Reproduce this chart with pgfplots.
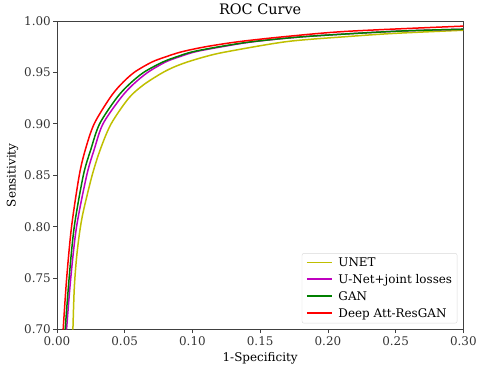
\documentclass[border=0pt]{standalone}
\usepackage{fontspec}
\setmainfont{DejaVu Serif}
\usepackage{pgfplots}
\pgfplotsset{compat=1.18}
\definecolor{mplyellow}{rgb}{0.75,0.75,0}
\definecolor{mplmagenta}{rgb}{0.75,0,0.75}
\definecolor{mplgreen}{rgb}{0,0.5,0}
\definecolor{mplred}{rgb}{1,0,0}

\begin{document}
\begin{tikzpicture}
% canvas of the reference (480x370 px, axis box at 57..464 x 21..330)
\path (-57bp,-40bp) rectangle (423bp,330bp);
\begin{axis}[
    scale only axis,
    width=407bp, height=309bp,
    at={(0,0)}, anchor=south west,
    xmin=0, xmax=0.30,
    ymin=0.70, ymax=1.00,
    xtick={0,0.05,...,0.301},
    ytick={0.70,0.75,...,1.001},
    /pgf/number format/.cd, fixed, fixed zerofill, precision=2, assume math mode=true,
    /pgfplots/.cd,
    tick align=outside,
    tick pos=left,
    major tick length=3.6bp,
    axis line style={black!75, line width=0.8bp},
    every tick/.style={black!75, line width=0.8bp},
    tick label style={font=\fontsize{12}{14}\selectfont, black!80},
    yticklabel style={xshift=1bp},
    title={ROC Curve},
    title style={font=\fontsize{14.5}{16}\selectfont, yshift=-3bp},
    xlabel={1-Specificity},
    ylabel={Sensitivity},
    label style={font=\fontsize{12}{14}\selectfont},
    xlabel style={yshift=0bp},
    ylabel style={yshift=-1bp},
    legend style={
        at={(0.985,0.02)}, anchor=south east,
        draw=black!15, rounded corners=2pt,
        fill=white,
        font=\fontsize{12}{14}\selectfont,
        row sep=2.5bp, inner xsep=3bp, inner ysep=2.5bp,
    },
    legend cell align=left,
    legend image code/.code={%
        \draw[#1, line width=1.6bp] (0bp,0.5bp) -- (25bp,0.5bp);
        \path (-1bp,0bp) (29bp,0bp);},
]

\addplot[color=mplyellow, line width=1.5bp, smooth, tension=0.5] coordinates {
    (0.0118,0.70) (0.0128,0.74) (0.0145,0.77) (0.0168,0.795) (0.0195,0.815)
    (0.026,0.85) (0.032,0.875) (0.040,0.90) (0.053,0.925) (0.064,0.938)
    (0.077,0.949) (0.086,0.955) (0.096,0.96) (0.11,0.9655) (0.125,0.97)
    (0.17,0.98) (0.216,0.985) (0.25,0.988) (0.30,0.991)
};
\addlegendentry{UNET}

\addplot[color=mplmagenta, line width=1.5bp, smooth, tension=0.5] coordinates {
    (0.0071,0.70) (0.0102,0.75) (0.0145,0.80) (0.022,0.85) (0.0275,0.875)
    (0.034,0.90) (0.047,0.925) (0.056,0.938) (0.067,0.95) (0.080,0.96)
    (0.090,0.965) (0.102,0.97) (0.122,0.975) (0.146,0.98) (0.185,0.985)
    (0.25,0.99) (0.30,0.992)
};
\addlegendentry{U-Net+joint losses}

\addplot[color=mplgreen, line width=1.5bp, smooth, tension=0.5] coordinates {
    (0.0061,0.70) (0.0090,0.75) (0.0128,0.80) (0.0195,0.85) (0.025,0.875)
    (0.0315,0.90) (0.044,0.925) (0.053,0.938) (0.064,0.95) (0.078,0.96)
    (0.088,0.965) (0.100,0.97) (0.12,0.975) (0.145,0.98) (0.185,0.985)
    (0.25,0.99) (0.30,0.992)
};
\addlegendentry{GAN}

\addplot[color=mplred, line width=1.5bp, smooth, tension=0.5] coordinates {
    (0.0046,0.70) (0.0072,0.75) (0.0108,0.80) (0.0165,0.85) (0.021,0.875)
    (0.0275,0.90) (0.039,0.925) (0.047,0.938) (0.057,0.95) (0.070,0.96)
    (0.080,0.965) (0.092,0.97) (0.11,0.975) (0.135,0.98) (0.17,0.985)
    (0.215,0.99) (0.30,0.995)
};
\addlegendentry{Deep Att-ResGAN}

\end{axis}
\end{tikzpicture}
\end{document}
